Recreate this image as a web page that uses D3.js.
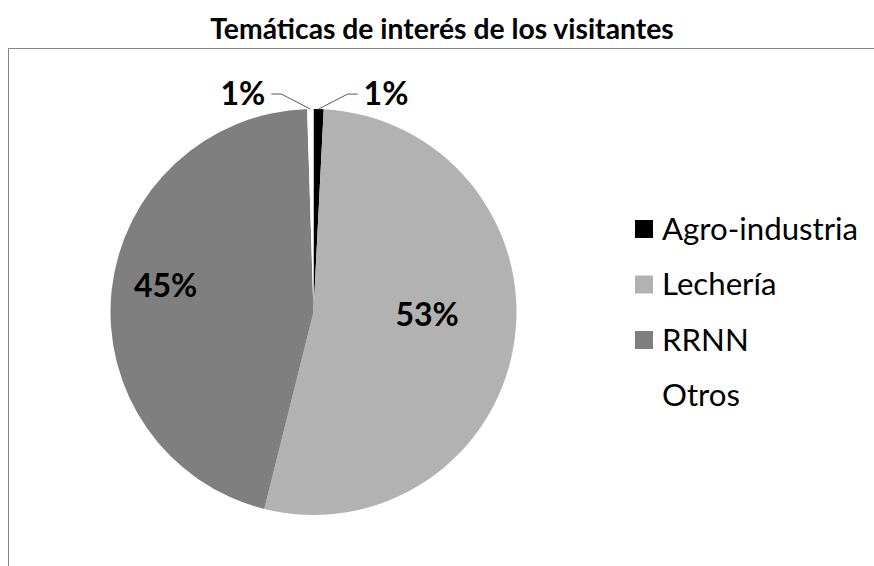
<!DOCTYPE html>
<html>
<head>
<meta charset="utf-8">
<script src="https://cdn.jsdelivr.net/npm/d3@7"></script>
<style>
  body { margin: 0; background: #fff; }
  svg { display: block; font-family: Lato, "Open Sans", sans-serif; }
</style>
</head>
<body>
<svg width="874" height="566"></svg>
<script>
// chart data
const categories = ["Agro-industria", "Lechería", "RRNN", "Otros"];
const values = [0.8, 53.1, 45.6, 0.5];
const pctLabels = ["1%", "53%", "45%", "1%"];
const colors = ["#000000", "#b2b2b2", "#7f7f7f", "#ffffff"];

const title = "Temáticas de interés de los visitantes";

const data = categories.map(function(c, i) {
  return { name: c, value: values[i], label: pctLabels[i], color: colors[i] };
});

// chart dimensions
const width = 874;
const height = 566;
const cx = 313.5;
const cy = 312;
const radius = 203;

const svg = d3.select("svg");

// chart area border
svg.append("rect")
  .attr("x", 8.5)
  .attr("y", 48.5)
  .attr("width", width + 20)
  .attr("height", height)
  .attr("fill", "none")
  .attr("stroke", "#868686")
  .attr("stroke-width", 1);

// title
svg.append("text")
  .attr("x", 442)
  .attr("y", 39)
  .attr("text-anchor", "middle")
  .style("font-size", "28.3px")
  .style("font-weight", "bold")
  .text(title);

// pie layout
const pie = d3.pie()
  .sort(null)
  .value(function(d) { return d.value; });

const arc = d3.arc()
  .innerRadius(0)
  .outerRadius(radius);

const arcs = pie(data);

const g = svg.append("g")
  .attr("transform", "translate(" + cx + "," + cy + ")");

g.selectAll(".slice")
  .data(arcs)
  .enter()
  .append("path")
  .attr("class", "slice")
  .attr("d", arc)
  .attr("fill", function(d) { return d.data.color; });

// inside labels: radius factor and angle nudge (degrees)
const inside = {
  "Lechería": { r: 0.56, a: -7 },
  "RRNN": { r: 0.74, a: 4 }
};

function polar(r, angle) {
  return [r * Math.sin(angle), -r * Math.cos(angle)];
}

arcs.forEach(function(d) {
  const mid = (d.startAngle + d.endAngle) / 2;
  const opt = inside[d.data.name];
  if (opt) {
    const p = polar(radius * opt.r, mid + opt.a * Math.PI / 180);
    g.append("text")
      .attr("x", p[0])
      .attr("y", p[1])
      .attr("dy", "0.35em")
      .attr("text-anchor", "middle")
      .style("font-size", "32px")
      .style("font-weight", "bold")
      .text(d.data.label);
  } else {
    // outside label with leader line
    const side = Math.sin(mid) >= 0 ? 1 : -1;
    const p0 = polar(radius, mid);
    const p1 = [p0[0] + side * 29, p0[1] - 15];
    const p2 = [p1[0] + side * 10, p1[1]];
    g.append("polyline")
      .attr("points", [p0, p1, p2].map(function(p) { return p.join(","); }).join(" "))
      .attr("fill", "none")
      .attr("stroke", "#595959")
      .attr("stroke-width", 1);
    g.append("text")
      .attr("x", p2[0] + side * 6)
      .attr("y", p2[1])
      .attr("dy", "0.35em")
      .attr("text-anchor", side > 0 ? "start" : "end")
      .style("font-size", "32px")
      .style("font-weight", "bold")
      .text(d.data.label);
  }
});

// legend
const legend = svg.append("g")
  .attr("transform", "translate(635,229)");

const legendItem = legend.selectAll(".legend-item")
  .data(data)
  .enter()
  .append("g")
  .attr("class", "legend-item")
  .attr("transform", function(d, i) { return "translate(0," + (i * 55.5) + ")"; });

legendItem.append("rect")
  .attr("x", 0)
  .attr("y", -9)
  .attr("width", 18)
  .attr("height", 18)
  .attr("fill", function(d) { return d.color; });

legendItem.append("text")
  .attr("x", 27)
  .attr("y", 0)
  .attr("dy", "0.35em")
  .style("font-size", "31.2px")
  .text(function(d) { return d.name; });
</script>
</body>
</html>
